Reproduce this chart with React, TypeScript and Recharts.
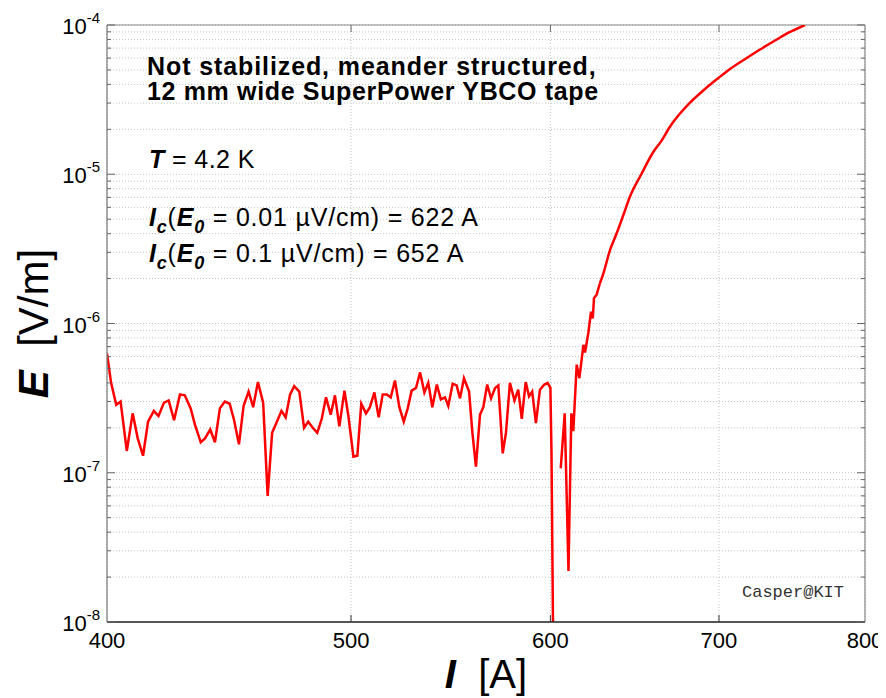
// E(I) curve of a meander structured YBCO tape, log-log axes.
import { LineChart, Line, XAxis, YAxis, CartesianGrid, ReferenceLine } from 'recharts';

// noisy part, up to the transition
const current = [
  400.0, 401.5, 403.4, 405.0, 407.3, 409.5, 411.4, 413.4, 415.3, 417.5, 419.3, 421.4, 423.2, 425.3, 427.6,
  429.5, 431.8, 433.5, 435.8, 437.5, 439.6, 441.5, 443.5, 445.5, 447.5, 449.3, 451.3, 453.2, 455.3, 457.2,
  459.2, 461.4, 463.3, 465.2, 467.5, 469.2, 471.0, 472.9, 474.7, 476.9, 479.0, 480.8, 482.8, 484.8, 486.8,
  488.7, 490.8, 492.7, 494.7, 497.0, 498.8, 501.1, 502.9, 504.7, 506.9, 508.7, 510.8, 512.8, 514.7, 516.6,
  518.5, 520.5, 522.6, 524.7, 526.6, 528.5, 530.6, 532.6, 534.7, 536.6, 538.6, 540.8, 542.8, 544.9, 546.5,
  548.7, 550.7, 552.4, 554.4, 557.0, 558.7, 560.5, 562.6, 564.3, 566.3, 568.3, 570.4, 572.1, 574.4, 576.1,
  578.2, 580.6, 582.6, 584.5, 586.6, 588.4, 590.1, 592.1, 594.3, 596.7, 598.5, 600.0, 600.6, 601.8, 603.6,
  605.7, 607.9, 610.0, 611.6, 612.7, 614.6, 616.1, 618.4, 619.3, 621.2, 622.7, 623.7, 624.4, 625.9, 627.8,
];

// V/m, null = no positive reading (gap in the curve)
const field: (number | null)[] = [
  6.3e-7, 4.0e-7, 2.85e-7, 3.0e-7, 1.4e-7, 2.5e-7, 1.7e-7, 1.3e-7, 2.2e-7, 2.6e-7, 2.4e-7, 2.95e-7, 3.05e-7, 2.25e-7, 3.35e-7,
  3.3e-7, 2.7e-7, 2.1e-7, 1.6e-7, 1.7e-7, 1.95e-7, 1.6e-7, 2.7e-7, 3.0e-7, 2.9e-7, 2.25e-7, 1.55e-7, 2.8e-7, 3.5e-7, 2.75e-7,
  4.05e-7, 2.95e-7, 7.0e-8, 1.85e-7, 2.25e-7, 2.6e-7, 2.35e-7, 3.35e-7, 3.8e-7, 3.5e-7, 2.0e-7, 2.2e-7, 2.0e-7, 1.85e-7, 2.3e-7,
  3.2e-7, 2.45e-7, 3.3e-7, 2.05e-7, 3.55e-7, 2.4e-7, 1.28e-7, 1.3e-7, 2.9e-7, 2.5e-7, 2.75e-7, 3.45e-7, 2.35e-7, 3.35e-7, 3.35e-7,
  3.2e-7, 4.15e-7, 2.75e-7, 2.2e-7, 2.7e-7, 3.55e-7, 3.7e-7, 4.7e-7, 3.45e-7, 4.0e-7, 2.75e-7, 3.9e-7, 3.1e-7, 3.2e-7, 2.8e-7,
  3.95e-7, 3.85e-7, 3.15e-7, 4.3e-7, 3.5e-7, 1.85e-7, 1.1e-7, 2.45e-7, 2.75e-7, 3.9e-7, 3.15e-7, 3.7e-7, 3.85e-7, 1.35e-7, 1.85e-7,
  4.0e-7, 3.05e-7, 3.6e-7, 2.3e-7, 4.05e-7, 3.25e-7, 3.5e-7, 2.15e-7, 3.6e-7, 3.9e-7, 4.0e-7, 3.7e-7, 1.35e-7, 3.0e-9, null,
  1.07e-7, 2.5e-7, 2.2e-8, 2.5e-7, 1.9e-7, 5.3e-7, 4.3e-7, 7.2e-7, 6.4e-7, 8.7e-7, 1.2e-6, 1.08e-6, 1.48e-6, 1.56e-6, 1.86e-6,
];

// smooth resistive branch
const riseCurrent = [
  627.8, 629.8, 633.6, 637.5, 641.4, 645.3, 652.0, 659.2, 663.9, 669.4, 675.5, 681.7, 690.0, 699.6, 707.1,
  718.0, 726.8, 738.0, 747.0, 757.3,
];
const riseField = [
  1.86e-6, 2.17e-6, 3.1e-6, 4.02e-6, 5.33e-6, 7.1e-6, 1.0e-5, 1.41e-5, 1.66e-5, 2.09e-5, 2.55e-5, 3.02e-5, 3.64e-5, 4.41e-5, 5.07e-5,
  6.01e-5, 6.85e-5, 8.0e-5, 8.98e-5, 1.0e-4,
];

const xTicks = [400, 500, 600, 700, 800];
const decades = [-8, -7, -6, -5];
const mantissas = [1, 2, 3, 4, 5, 6, 7, 8, 9];
const yTicks = [...decades.flatMap((d) => mantissas.map((m) => m * Math.pow(10, d))), 1e-4];

const noisyData = current.map((I, i) => ({ I, E: field[i] }));
const riseData = riseCurrent.map((I, i) => ({ I, E: riseField[i] }));

const W = 878;
const H = 690;
const LEFT = 99;
const RIGHT = 857;
const TOP = 17;
const BOTTOM = 614;
const FONT = '"Liberation Sans", Arial, sans-serif';

function YTick({ y, payload }: any) {
  const v = payload.value as number;
  const exp = Math.round(Math.log10(v));
  const major = Math.abs(v / Math.pow(10, exp) - 1) < 1e-6;
  const len = major ? 8 : 4;
  return (
    <g>
      <line x1={LEFT} x2={LEFT + len} y1={y} y2={y} stroke="#666" strokeWidth={1} />
      <line x1={RIGHT - len} x2={RIGHT} y1={y} y2={y} stroke="#666" strokeWidth={1} />
      {major && (
        <text x={92} y={y + 9} textAnchor="end" fontFamily={FONT} fontSize={22} fill="#000">
          10<tspan dy={-11} fontSize={15}>{exp}</tspan>
        </text>
      )}
    </g>
  );
}

function XTick({ x, payload }: any) {
  const v = payload.value as number;
  const inner = v !== 400 && v !== 800;
  return (
    <g>
      {inner && <line x1={x} x2={x} y1={BOTTOM} y2={BOTTOM - 7} stroke="#333" />}
      {inner && <line x1={x} x2={x} y1={TOP} y2={TOP + 7} stroke="#666" />}
      <text x={x} y={BOTTOM + 26} textAnchor="middle" fontFamily={FONT} fontSize={22} fill="#000">
        {v}
      </text>
    </g>
  );
}

export default function App() {
  const bi = { fontWeight: 700, fontStyle: 'italic' } as const;
  return (
    <div style={{ position: 'relative', width: W, height: H }}>
      <LineChart width={W} height={H} margin={{ top: TOP, right: W - RIGHT, bottom: 16, left: 9 }}>
        <CartesianGrid stroke="#c4c4c4" strokeDasharray="1 2" />
        <XAxis
          dataKey="I"
          type="number"
          scale="log"
          domain={[400, 800]}
          ticks={xTicks}
          interval={0}
          allowDataOverflow
          height={60}
          tickLine={false}
          axisLine={{ stroke: '#222', strokeWidth: 1.5 }}
          tick={<XTick />}
        />
        <YAxis
          type="number"
          scale="log"
          domain={[1e-8, 1e-4]}
          ticks={yTicks}
          interval={0}
          allowDataOverflow
          width={90}
          tickLine={false}
          axisLine={{ stroke: '#777', strokeWidth: 1.2 }}
          tick={<YTick />}
        />
        <ReferenceLine y={1e-4} stroke="#888" strokeWidth={1.2} />
        <ReferenceLine x={800} stroke="#888" strokeWidth={1.2} />
        <Line
          data={noisyData}
          type="linear"
          dataKey="E"
          stroke="#ff0000"
          strokeWidth={2.5}
          dot={false}
          connectNulls={false}
          isAnimationActive={false}
        />
        <Line
          data={riseData}
          type="monotone"
          dataKey="E"
          stroke="#ff0000"
          strokeWidth={2.5}
          dot={false}
          isAnimationActive={false}
        />
      </LineChart>
      <svg
        width={W}
        height={H}
        style={{ position: 'absolute', left: 0, top: 0, pointerEvents: 'none' }}
        fontFamily={FONT}
      >
        <text x={139} y={67} fontSize={25} fontWeight={700} letterSpacing={0.9}>Not stabilized, meander structured,</text>
        <text x={139} y={92} fontSize={25} fontWeight={700} letterSpacing={0.65}>12 mm wide SuperPower YBCO tape</text>
        <text x={141} y={160} fontSize={25} letterSpacing={0.4}>
          <tspan {...bi}>T</tspan> = 4.2 K
        </text>
        <text x={141} y={218} fontSize={25} letterSpacing={0.8}>
          <tspan {...bi}>I</tspan>
          <tspan {...bi} fontSize={18} dy={7}>c</tspan>
          <tspan dy={-7}>(</tspan>
          <tspan {...bi}>E</tspan>
          <tspan {...bi} fontSize={18} dy={7}>0</tspan>
          <tspan dy={-7}> = 0.01 µV/cm) = 622 A</tspan>
        </text>
        <text x={141} y={254} fontSize={25} letterSpacing={0.8}>
          <tspan {...bi}>I</tspan>
          <tspan {...bi} fontSize={18} dy={7}>c</tspan>
          <tspan dy={-7}>(</tspan>
          <tspan {...bi}>E</tspan>
          <tspan {...bi} fontSize={18} dy={7}>0</tspan>
          <tspan dy={-7}> = 0.1 µV/cm) = 652 A</tspan>
        </text>
        <text x={734} y={589} fontSize={17} fontFamily='"Liberation Mono", "Courier New", monospace' fill="#333">
          Casper@KIT
        </text>
        <text
          x={40}
          y={(TOP + BOTTOM) / 2}
          fontSize={42}
          textAnchor="middle"
          transform={`rotate(-90 40 ${(TOP + BOTTOM) / 2})`}
        >
          <tspan {...bi}>E</tspan>
          <tspan>{'\u00a0\u00a0[V/m]'}</tspan>
        </text>
        <text x={(LEFT + RIGHT) / 2} y={680} fontSize={40} textAnchor="middle">
          <tspan {...bi}>I</tspan>
          <tspan>{'\u00a0\u00a0[A]'}</tspan>
        </text>
      </svg>
    </div>
  );
}
